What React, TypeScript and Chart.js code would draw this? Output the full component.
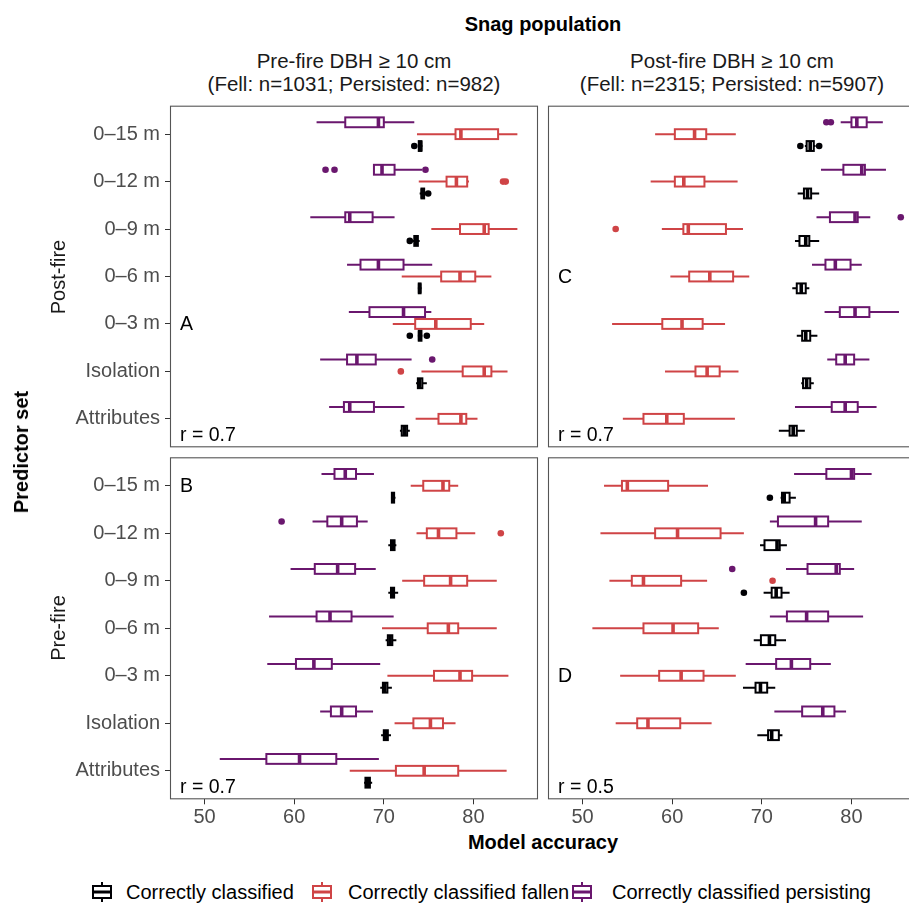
import React, { useEffect, useRef } from 'react';
import { Chart, registerables } from 'chart.js';

Chart.register(...registerables);

const FONT = "'Liberation Sans', Arial, Helvetica, sans-serif";
Chart.defaults.font.family = FONT;

// ---------------- data ----------------
const categories = ['0–15 m', '0–12 m', '0–9 m', '0–6 m', '0–3 m', 'Isolation', 'Attributes'];
const xTickValues = [50, 60, 70, 80];
const X_MIN = 46.15;
const X_MAX = 87.2;

type Box = [number, number, number, number, number] | null; // min, q1, median, q3, max

// Panel A: post-fire predictor sets, pre-fire DBH >= 10 cm population
const aOverall: Box[] = [
  [73.8, 73.9, 74.1, 74.2, 74.3],
  [74.0, 74.2, 74.3, 74.5, 74.6],
  [73.2, 73.4, 73.6, 73.8, 74.0],
  [73.8, 73.9, 74.0, 74.1, 74.2],
  [73.8, 73.9, 74.0, 74.2, 74.3],
  [73.6, 73.8, 74.0, 74.3, 74.8],
  [71.8, 72.0, 72.3, 72.6, 72.9],
];
const aOverallOut = [[73.4], [74.95], [72.9], [], [72.9, 74.8], [], []];
const aFallen: Box[] = [
  [73.7, 78.0, 78.6, 82.75, 84.9],
  [73.9, 77.0, 78.1, 79.3, 79.5],
  [75.3, 78.5, 81.2, 81.7, 84.9],
  [72.0, 76.4, 78.5, 80.2, 82.0],
  [71.0, 73.5, 75.8, 79.7, 81.2],
  [74.2, 78.8, 81.2, 82.0, 83.8],
  [73.55, 76.1, 78.6, 79.2, 80.45],
];
const aFallenOut = [[], [83.3, 83.6], [], [], [], [71.9], []];
const aPersisting: Box[] = [
  [62.5, 65.7, 69.4, 70.0, 73.4],
  [68.8, 68.9, 69.8, 71.2, 74.3],
  [61.8, 65.7, 66.2, 68.75, 71.2],
  [65.9, 67.4, 69.4, 72.2, 75.4],
  [66.1, 68.4, 72.2, 74.6, 75.3],
  [62.9, 65.9, 67.0, 69.1, 73.1],
  [63.9, 65.55, 66.2, 68.9, 72.3],
];
const aPersistingOut = [[], [63.5, 64.5, 74.65], [], [], [], [75.4], []];

// Panel C: post-fire predictor sets, post-fire DBH >= 10 cm population
const cOverall: Box[] = [
  [74.8, 75.0, 75.4, 75.8, 76.0],
  [74.0, 74.7, 75.1, 75.5, 76.4],
  [73.7, 74.2, 74.9, 75.3, 76.4],
  [73.4, 73.9, 74.4, 74.9, 75.3],
  [73.9, 74.5, 74.9, 75.4, 76.2],
  [74.4, 74.6, 75.0, 75.4, 75.8],
  [71.9, 73.1, 73.5, 73.9, 74.8],
];
const cOverallOut = [[74.3, 76.4], [], [], [], [], [], []];
const cFallen: Box[] = [
  [58.1, 60.3, 62.5, 63.8, 67.1],
  [57.6, 60.3, 61.3, 63.6, 67.3],
  [58.85, 61.25, 61.8, 66.0, 67.9],
  [59.8, 61.9, 64.2, 66.8, 68.6],
  [53.3, 58.9, 61.1, 63.4, 65.9],
  [59.2, 62.6, 63.9, 65.3, 67.4],
  [54.5, 56.8, 59.4, 61.3, 67.0],
];
const cFallenOut = [[], [], [53.7], [], [], [], []];
const cPersisting: Box[] = [
  [78.8, 80.0, 80.6, 81.7, 83.5],
  [76.6, 79.1, 81.15, 81.5, 83.85],
  [76.1, 77.6, 80.4, 80.7, 82.1],
  [75.6, 77.1, 78.2, 79.9, 81.15],
  [77.0, 78.7, 80.4, 82.0, 85.3],
  [77.3, 78.3, 79.3, 80.3, 82.0],
  [73.7, 77.8, 79.3, 80.7, 82.8],
];
const cPersistingOut = [[77.2, 77.7], [], [85.5], [], [], [], []];

// Panel B: pre-fire predictor sets, pre-fire DBH >= 10 cm population
const bOverall: Box[] = [
  [70.8, 70.9, 71.0, 71.15, 71.3],
  [70.5, 70.8, 71.0, 71.2, 71.4],
  [70.5, 70.8, 70.95, 71.15, 71.6],
  [70.2, 70.45, 70.7, 70.95, 71.4],
  [69.6, 69.9, 70.1, 70.4, 70.9],
  [69.7, 70.0, 70.2, 70.45, 70.8],
  [67.8, 67.95, 68.2, 68.45, 68.7],
];
const bOverallOut = [[], [], [], [], [], [], []];
const bFallen: Box[] = [
  [73.0, 74.4, 76.6, 77.3, 78.3],
  [73.65, 74.8, 76.1, 78.1, 80.2],
  [72.05, 74.5, 77.45, 79.3, 82.6],
  [69.8, 74.9, 77.2, 78.3, 82.6],
  [70.4, 75.6, 78.5, 79.85, 83.9],
  [71.2, 73.3, 75.2, 76.6, 78.0],
  [66.2, 71.35, 74.5, 78.3, 83.7],
];
const bFallenOut = [[], [83.05], [], [], [], [], []];
const bPersisting: Box[] = [
  [63.05, 64.5, 65.7, 66.9, 68.9],
  [62.05, 63.7, 65.3, 67.0, 68.2],
  [59.6, 62.3, 64.85, 66.8, 69.1],
  [57.2, 62.5, 64.0, 66.4, 71.1],
  [57.0, 60.2, 62.2, 64.2, 69.6],
  [62.9, 64.1, 65.3, 66.9, 68.8],
  [51.7, 56.9, 60.6, 64.7, 69.45],
];
const bPersistingOut = [[], [58.6], [], [], [], [], []];

// Panel D: pre-fire predictor sets, post-fire DBH >= 10 cm population
const dOverall: Box[] = [
  [72.1, 72.25, 72.5, 73.1, 73.8],
  [69.8, 70.3, 71.7, 72.0, 72.8],
  [70.2, 71.1, 71.6, 72.2, 73.1],
  [69.1, 69.9, 70.85, 71.5, 72.7],
  [67.9, 69.3, 69.85, 70.6, 71.5],
  [69.5, 70.7, 71.1, 71.9, 72.3],
  null,
];
const dOverallOut = [[70.9], [], [68.0], [], [], [], []];
const dFallen: Box[] = [
  [52.4, 54.4, 55.0, 59.55, 64.0],
  [52.0, 58.1, 60.6, 65.4, 68.0],
  [53.0, 55.5, 56.8, 61.0, 63.9],
  [51.1, 56.8, 60.1, 62.9, 65.2],
  [54.2, 58.55, 61.0, 63.5, 67.1],
  [53.7, 56.1, 57.3, 60.9, 64.4],
  null,
];
const dFallenOut = [[], [], [71.2], [], [], [], []];
const dPersisting: Box[] = [
  [73.6, 77.2, 80.0, 80.3, 82.25],
  [70.9, 71.8, 76.0, 77.4, 81.15],
  [72.7, 75.1, 78.3, 78.7, 80.3],
  [70.9, 72.8, 75.0, 77.4, 81.3],
  [68.2, 71.6, 73.3, 75.4, 77.7],
  [71.4, 74.5, 76.8, 78.1, 79.4],
  null,
];
const dPersistingOut = [[], [], [66.7], [], [], [], []];

const seriesNames = ['Correctly classified', 'Correctly classified fallen', 'Correctly classified persisting'];
const panelLetters = ['A', 'B', 'C', 'D'];
const panelR = ['r = 0.7', 'r = 0.7', 'r = 0.7', 'r = 0.5'];

// ---------------- styling / layout ----------------
const BLACK = '#000004';
const RED = '#CF4446';
const PURPLE = '#6A176E';
const TICK_COLOR = '#4D4D4D';

interface Group { color: string; stats: Box[]; out: number[][] }
interface PanelSpec {
  id: string;
  letter: string;
  letterAt: number;
  r: string;
  left: number; top: number; width: number; height: number;
  padding: { left: number; right: number; top: number; bottom: number };
  showY: boolean; showX: boolean;
  groups: Group[]; // drawn top to bottom within a row: persisting, fallen, overall
}

const mk = (overall: Box[], oOut: number[][], fallen: Box[], fOut: number[][], pers: Box[], pOut: number[][]): Group[] => [
  { color: PURPLE, stats: pers, out: pOut },
  { color: RED, stats: fallen, out: fOut },
  { color: BLACK, stats: overall, out: oOut },
];

const panels: PanelSpec[] = [
  { id: 'A', letter: panelLetters[0], letterAt: 4, r: panelR[0], left: 0, top: 100, width: 540, height: 350,
    padding: { left: 0, right: 2, top: 5.7, bottom: 2.7 }, showY: true, showX: false,
    groups: mk(aOverall, aOverallOut, aFallen, aFallenOut, aPersisting, aPersistingOut) },
  { id: 'C', letter: panelLetters[2], letterAt: 3, r: panelR[2], left: 540, top: 100, width: 380, height: 350,
    padding: { left: 8, right: 4, top: 5.7, bottom: 2.7 }, showY: false, showX: false,
    groups: mk(cOverall, cOverallOut, cFallen, cFallenOut, cPersisting, cPersistingOut) },
  { id: 'B', letter: panelLetters[1], letterAt: 0, r: panelR[1], left: 0, top: 450, width: 540, height: 380,
    padding: { left: 0, right: 2, top: 7.3, bottom: 0 }, showY: true, showX: true,
    groups: mk(bOverall, bOverallOut, bFallen, bFallenOut, bPersisting, bPersistingOut) },
  { id: 'D', letter: panelLetters[3], letterAt: 4, r: panelR[3], left: 540, top: 450, width: 380, height: 380,
    padding: { left: 8, right: 4, top: 7.3, bottom: 0 }, showY: false, showX: true,
    groups: mk(dOverall, dOverallOut, dFallen, dFallenOut, dPersisting, dPersistingOut) },
];

function makeConfig(spec: PanelSpec): any {
  const datasets = spec.groups.map((g) => ({
    type: 'bar',
    data: g.stats
      .map((s, i) => (s ? { y: i, x: [s[1], s[3]] } : null))
      .filter((d) => d !== null),
    backgroundColor: '#ffffff',
    borderWidth: 0,
    categoryPercentage: 0.75,
    barPercentage: 0.83,
    inflateAmount: 0,
  }));

  const plugin = {
    id: 'boxplot' + spec.id,
    afterDatasetsDraw(chart: any) {
      const ctx = chart.ctx as CanvasRenderingContext2D;
      const xs = chart.scales.x;
      const px = (v: number) => xs.getPixelForValue(v);
      spec.groups.forEach((g, k) => {
        const meta = chart.getDatasetMeta(k);
        const data = chart.data.datasets[k].data as any[];
        meta.data.forEach((el: any, j: number) => {
          const cat = data[j].y;
          const s = g.stats[cat];
          if (!s) return;
          const { y, height } = el.getProps(['y', 'height'], true);
          const top = y - height / 2;
          ctx.save();
          ctx.strokeStyle = g.color;
          ctx.fillStyle = g.color;
          ctx.lineCap = 'butt';
          ctx.lineWidth = 2;
          ctx.beginPath();
          ctx.moveTo(px(s[0]), y);
          ctx.lineTo(px(s[1]), y);
          ctx.moveTo(px(s[3]), y);
          ctx.lineTo(px(s[4]), y);
          ctx.stroke();
          ctx.strokeRect(px(s[1]), top, px(s[3]) - px(s[1]), height);
          ctx.lineWidth = 3.6;
          ctx.beginPath();
          ctx.moveTo(px(s[2]), top);
          ctx.lineTo(px(s[2]), top + height);
          ctx.stroke();
          for (const o of g.out[cat] || []) {
            ctx.beginPath();
            ctx.arc(px(o), y, 3.3, 0, Math.PI * 2);
            ctx.fill();
          }
          ctx.restore();
        });
      });
    },
    afterDraw(chart: any) {
      const ctx = chart.ctx as CanvasRenderingContext2D;
      const a = chart.chartArea;
      const ys = chart.scales.y;
      ctx.save();
      ctx.strokeStyle = '#555555';
      ctx.lineWidth = 1.1;
      ctx.strokeRect(a.left + 0.5, a.top + 0.5, a.right - a.left - 1, a.bottom - a.top - 1);
      ctx.fillStyle = '#000000';
      ctx.font = `19.5px ${FONT}`;
      ctx.textAlign = 'left';
      ctx.textBaseline = 'middle';
      ctx.fillText(spec.letter, a.left + 10, ys.getPixelForValue(spec.letterAt) + 1);
      ctx.fillText(spec.r, a.left + 10, ys.getPixelForValue(6.34) + 1);
      ctx.restore();
    },
  };

  return {
    type: 'bar',
    data: { datasets },
    options: {
      indexAxis: 'y',
      responsive: false,
      animation: false,
      devicePixelRatio: 1,
      events: [],
      layout: { padding: spec.padding },
      plugins: { legend: { display: false }, tooltip: { enabled: false } },
      scales: {
        y: {
          type: 'linear',
          display: spec.showY,
          position: 'left',
          reverse: true,
          offset: false,
          min: -0.6,
          max: 6.6,
          bounds: 'data',
          afterBuildTicks: (s: any) => {
            s.ticks = categories.map((_, i) => ({ value: i }));
          },
          afterFit: (s: any) => {
            s.paddingTop = 0;
            s.paddingBottom = 0;
            if (spec.showY) s.width = 170;
          },
          ticks: {
            autoSkip: false,
            callback: (v: any) => categories[v as number],
            font: { size: 20, family: FONT },
            color: TICK_COLOR,
            padding: 5,
          },
          grid: { offset: false, drawOnChartArea: false, drawTicks: true, tickLength: 5, color: '#333333', lineWidth: 1 },
          border: { display: false },
        },
        x: {
          type: 'linear',
          display: spec.showX,
          position: 'bottom',
          offset: false,
          min: X_MIN,
          max: X_MAX,
          bounds: 'data',
          afterBuildTicks: (s: any) => {
            s.ticks = xTickValues.map((v) => ({ value: v }));
          },
          afterFit: (s: any) => {
            s.paddingLeft = 0;
            s.paddingRight = 0;
            if (spec.showX) s.height = 30.7;
          },
          ticks: {
            autoSkip: false,
            maxRotation: 0,
            font: { size: 20, family: FONT },
            color: TICK_COLOR,
            padding: 1,
          },
          grid: { offset: false, drawOnChartArea: false, drawTicks: true, tickLength: 5, color: '#333333', lineWidth: 1 },
          border: { display: false },
        },
      },
    },
    plugins: [plugin],
  };
}

function Panel({ spec }: { spec: PanelSpec }) {
  const ref = useRef<HTMLCanvasElement>(null);
  useEffect(() => {
    const chart = new Chart(ref.current as HTMLCanvasElement, makeConfig(spec));
    return () => chart.destroy();
  }, [spec]);
  return (
    <canvas
      ref={ref}
      width={spec.width}
      height={spec.height}
      style={{ position: 'absolute', left: spec.left, top: spec.top, width: spec.width, height: spec.height }}
    />
  );
}

function Txt(props: { x: number; y: number; size?: number; bold?: boolean; rotate?: boolean; color?: string; children: React.ReactNode }) {
  return (
    <div
      style={{
        position: 'absolute',
        left: props.x,
        top: props.y,
        transform: `translate(-50%, -50%)${props.rotate ? ' rotate(-90deg)' : ''}`,
        fontSize: props.size || 20,
        lineHeight: 1,
        fontWeight: props.bold ? 700 : 400,
        color: props.color || '#000000',
        whiteSpace: 'nowrap',
        fontFamily: FONT,
      }}
    >
      {props.children}
    </div>
  );
}

function LegendItem({ keyX, textX, color, label }: { keyX: number; textX: number; color: string; label: string }) {
  return (
    <>
      <svg style={{ position: 'absolute', left: keyX, top: 880 }} width={24} height={24}>
        <line x1={12} y1={2} x2={12} y2={22} stroke={color} strokeWidth={2} />
        <rect x={3} y={6} width={18} height={12} fill="#ffffff" stroke={color} strokeWidth={2} />
        <line x1={3} y1={12} x2={21} y2={12} stroke={color} strokeWidth={3} />
      </svg>
      <div
        style={{
          position: 'absolute',
          left: textX,
          top: 892,
          transform: 'translateY(-50%)',
          fontSize: 20,
          lineHeight: 1,
          whiteSpace: 'nowrap',
          fontFamily: FONT,
          color: '#000000',
        }}
      >
        {label}
      </div>
    </>
  );
}

export default function App() {
  return (
    <div
      style={{
        position: 'fixed',
        left: 0,
        top: 0,
        width: 909,
        height: 906,
        overflow: 'hidden',
        background: '#ffffff',
        fontFamily: FONT,
      }}
    >
      {panels.map((p) => (
        <Panel key={p.id} spec={p} />
      ))}
      <Txt x={543} y={24} bold>Snag population</Txt>
      <Txt x={354} y={61} size={20.5} color="#1A1A1A">Pre-fire DBH ≥ 10 cm</Txt>
      <Txt x={354} y={84} size={20.5} color="#1A1A1A">(Fell: n=1031; Persisted: n=982)</Txt>
      <Txt x={732} y={61} size={20.5} color="#1A1A1A">Post-fire DBH ≥ 10 cm</Txt>
      <Txt x={732} y={84} size={20.5} color="#1A1A1A">(Fell: n=2315; Persisted: n=5907)</Txt>
      <Txt x={58} y={276.5} rotate color="#1A1A1A">Post-fire</Txt>
      <Txt x={58} y={628} rotate color="#1A1A1A">Pre-fire</Txt>
      <Txt x={21} y={452} rotate bold>Predictor set</Txt>
      <Txt x={543} y={842} bold>Model accuracy</Txt>
      <LegendItem keyX={90} textX={126} color={BLACK} label={seriesNames[0]} />
      <LegendItem keyX={310} textX={348} color={RED} label={seriesNames[1]} />
      <LegendItem keyX={570} textX={612} color={PURPLE} label={seriesNames[2]} />
    </div>
  );
}
